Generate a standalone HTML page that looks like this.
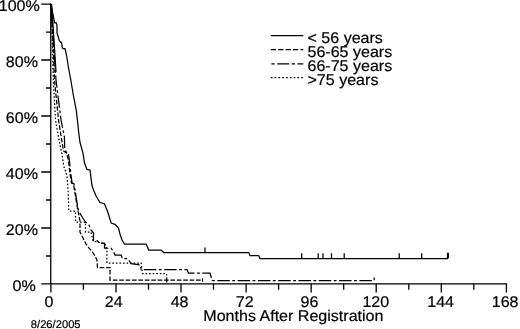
<!DOCTYPE html>
<html><head><meta charset="utf-8"><title>Survival by age</title>
<style>
html,body{margin:0;padding:0;background:#fff;}
body{width:520px;height:329px;overflow:hidden;}
svg{display:block;}
text{font-family:"Liberation Sans",Arial,Helvetica,sans-serif;fill:#000;stroke:#000;stroke-width:0.2;text-rendering:geometricPrecision;}
.ax{stroke:#000;stroke-width:1.3;fill:none;}
.c{stroke:#000;stroke-width:1.25;fill:none;stroke-linejoin:miter;}
</style></head><body>
<svg width="520" height="329" viewBox="0 0 520 329">
<rect width="520" height="329" fill="#fff"/>
<path class="ax" d="M50.75 3.6V283.8M41.2 283.8H507.1"/>
<path class="ax" d="M41.2 4.2H51M41.2 60H51M41.2 116H51M41.2 172H51M41.2 228H51M46 32.2H51M46 88H51M46 144H51M46 200H51M46 256H51"/>
<path class="ax" d="M50.9 283.8V292.5M116.0 283.8V292.5M181.0 283.8V292.5M246.1 283.8V292.5M311.2 283.8V292.5M376.2 283.8V292.5M441.3 283.8V292.5M506.4 283.8V292.5M83.4 283.8V289.7M148.5 283.8V289.7M213.5 283.8V289.7M278.6 283.8V289.7M343.7 283.8V289.7M408.8 283.8V289.7M473.8 283.8V289.7"/>
<text transform="translate(39.8 11) scale(1.035 1)" text-anchor="end" font-size="15.5">100%</text>
<text transform="translate(37.9 67.2) scale(1.035 1)" text-anchor="end" font-size="15.5">80%</text>
<text transform="translate(37.9 123) scale(1.035 1)" text-anchor="end" font-size="15.5">60%</text>
<text transform="translate(37.9 179) scale(1.035 1)" text-anchor="end" font-size="15.5">40%</text>
<text transform="translate(37.9 235) scale(1.035 1)" text-anchor="end" font-size="15.5">20%</text>
<text transform="translate(35.7 290.8) scale(1.035 1)" text-anchor="end" font-size="15.5">0%</text>
<text transform="translate(49.0 306.5) scale(1.035 1)" text-anchor="middle" font-size="15.5">0</text>
<text transform="translate(113.7 306.5) scale(1.035 1)" text-anchor="middle" font-size="15.5">24</text>
<text transform="translate(179.6 306.5) scale(1.035 1)" text-anchor="middle" font-size="15.5">48</text>
<text transform="translate(244.8 306.5) scale(1.035 1)" text-anchor="middle" font-size="15.5">72</text>
<text transform="translate(309.4 306.5) scale(1.035 1)" text-anchor="middle" font-size="15.5">96</text>
<text transform="translate(375.8 306.5) scale(1.035 1)" text-anchor="middle" font-size="15.5">120</text>
<text transform="translate(440.6 306.5) scale(1.035 1)" text-anchor="middle" font-size="15.5">144</text>
<text transform="translate(505.1 306.5) scale(1.035 1)" text-anchor="middle" font-size="15.5">168</text>
<text transform="translate(203.3 321.2) scale(1.035 1)" text-anchor="start" font-size="15.5">Months After Registration</text>
<text transform="translate(30.8 328.3) scale(1.0 1)" text-anchor="start" font-size="11.2">8/26/2005</text>
<path class="c" stroke-width="1.35" d="M270.8 35.6H303.3"/>
<path class="c" stroke-width="1.35" d="M270.8 49.7H303.3" stroke-dasharray="5.2 2.2"/>
<path class="c" stroke-width="1.35" d="M270.8 63.8H303.3" stroke-dasharray="12 2.5 3.3 2.5" stroke-dashoffset="13.9"/>
<path class="c" stroke-width="1.35" d="M270.8 77.6H303.3" stroke-dasharray="1.7 2.1"/>
<text transform="translate(307.5 43.3) scale(1.035 1)" text-anchor="start" font-size="15.5">&lt; 56 years</text>
<text transform="translate(307.5 57.0) scale(1.035 1)" text-anchor="start" font-size="15.5">56-65 years</text>
<text transform="translate(307.5 71.2) scale(1.035 1)" text-anchor="start" font-size="15.5">66-75 years</text>
<text transform="translate(307.5 84.8) scale(1.035 1)" text-anchor="start" font-size="15.5">&gt;75 years</text>
<!-- curve 1: <56 solid -->
<path class="c" stroke-width="1.05" d="M51 4L53.1 15.2L54.6 22.8H56.2L57 25V33L58 36L59.2 40.3L60.6 42.3H61.5L62.2 47L63 48.6H65L66.7 56L68.2 66L70.8 80L73.5 96L76.2 110L77.5 120.6L78.7 132.5L80 142.5L83.1 153.7L84.4 162.5L86.9 169.4L90 170L91.9 185L93.7 190.6L96.2 196.2L100 202.5L104.4 203.7L107.5 211.2L111.2 223L115 224.4L118.5 228L120 234L122 240L124.5 244H146.2L148.7 250H161.2L163.7 252.5H248.7L250 255.5H258.7L260 258.5H448"/>
<path class="c" stroke-width="1.15" d="M205 247.5V252.5M301.7 253.2V258.5M318.2 253.2V258.5M323 253.2V258.5M331.5 253.2V258.5M344.2 253.2V258.5M399.2 253.2V258.5M421.7 253.2V258.5M447.5 252.7V258.5M448.3 252.7V258.5"/>
<path class="c" stroke-width="1.1" d="M51.6 4L54 40L56 72"/>
<!-- curve 2: 56-65 dashed -->
<path class="c" stroke-width="1.3" stroke-dasharray="4.6 1.8" d="M51 4L52.8 40L54.5 80L58.5 120L61.5 138.7L63.5 151L66.5 153L68.5 160.6L70 173.7L71.5 183L73.3 183.7L74.6 190.6L76.5 202.5L78 211L80 221L80 232L83 238L86 244L89 248L92.5 252L95 256L96.9 260L97.5 267.5H110V280H202.5M202.5 278.3V281.8"/>
<!-- curve 3: 66-75 dash-dot -->
<path class="c" stroke-width="1.25" stroke-dasharray="12.5 2.5 2.8 2.5" stroke-dashoffset="9.7" d="M51 4L53.3 40L56 80L61 120L64.4 137L64.7 148.5L66.2 152L68.2 152.7L69.4 160.6L70.8 173.7L72.1 183L73.9 183.7L75.2 190.6L77 202.5L78.5 211L82.5 217.5L85.5 222L89 225L91 230L93.5 233V240.5H97L99.5 243H104.5V248H111L113.7 252L115 255H121.2L122.5 258.7H127.5L131.2 263.7L140 265L141.2 269.6H187L188.5 273.2H210L212.3 280.5H374.2V275"/>
<!-- curve 4: >75 dotted -->
<path class="c" stroke-width="1.4" stroke-dasharray="1.6 1.95" d="M51 4L52.3 40L53.3 80L55.5 120L59 140L61.9 153.7L63.7 166L66.9 175L68.1 190.6L68.8 211H75.5V222H85.5V232H91L93 241L105 243.7L106.9 250V263H141.2L142.5 273.6H166.6V278"/>
<path class="c" stroke-width="1.1" d="M166.7 277.8V282.6"/>
</svg>
</body></html>
